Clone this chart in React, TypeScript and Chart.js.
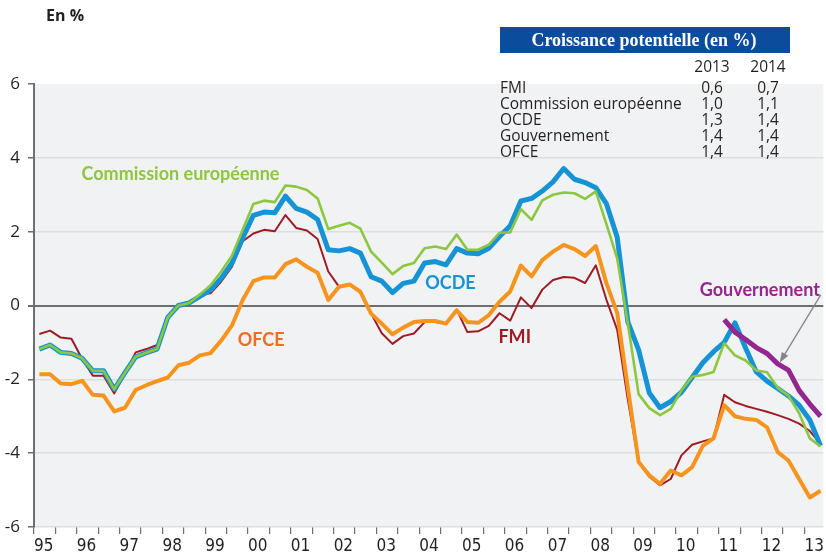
import React, { useEffect, useRef } from 'react';
import { Chart, registerables } from 'chart.js';

Chart.register(...registerables);

// ---- Data (quarterly output gap, % of potential GDP, 1995T1 - 2013T2) ----
const START_YEAR = 1995;
const yearLabels = ['95', '96', '97', '98', '99', '00', '01', '02', '03', '04', '05', '06', '07', '08', '09', '10', '11', '12', '13'];

const fmi = [
  -0.77, -0.68, -0.87, -0.9, -1.45, -1.9, -1.9, -2.38, -1.85, -1.27, -1.18, -1.07,
  -0.32, 0.0, 0.05, 0.3, 0.33, 0.65, 1.05, 1.74, 1.95, 2.05, 2.01, 2.45,
  2.1, 2.03, 1.8, 0.92, 0.51, 0.58, 0.4, -0.22, -0.75, -1.04, -0.83, -0.76,
  -0.45, -0.45, -0.49, -0.11, -0.72, -0.7, -0.55, -0.21, -0.41, 0.22, -0.07, 0.43,
  0.69, 0.77, 0.75, 0.61, 1.09, 0.15, -0.66, -2.56, -4.25, -4.64, -4.87, -4.7,
  -4.06, -3.77, -3.68, -3.6, -2.42, -2.62, -2.72, -2.8, -2.88, -2.97, -3.07, -3.2,
  -3.4, -3.75,
];

const commission = [
  -1.18, -1.07, -1.27, -1.3, -1.43, -1.77, -1.77, -2.27, -1.82, -1.39, -1.28, -1.18,
  -0.32, 0.0, 0.07, 0.3, 0.55, 0.92, 1.35, 2.05, 2.75, 2.84, 2.8, 3.25,
  3.22, 3.13, 2.9, 2.07, 2.16, 2.24, 2.08, 1.46, 1.16, 0.85, 1.07, 1.15,
  1.55, 1.6, 1.53, 1.92, 1.51, 1.51, 1.65, 1.97, 1.98, 2.61, 2.32, 2.85,
  3.0, 3.06, 3.04, 2.89, 3.09, 2.2, 1.27, -0.5, -2.4, -2.78, -2.97, -2.8,
  -2.3, -1.93, -1.88, -1.8, -1.02, -1.35, -1.49, -1.76, -1.81, -2.23, -2.44, -2.92,
  -3.6, -3.82,
];

const ocde = [
  -1.18, -1.07, -1.27, -1.3, -1.43, -1.77, -1.77, -2.27, -1.82, -1.39, -1.28, -1.18,
  -0.32, 0.0, 0.07, 0.25, 0.42, 0.74, 1.15, 1.83, 2.44, 2.53, 2.51, 2.96,
  2.63, 2.53, 2.33, 1.51, 1.48, 1.54, 1.42, 0.78, 0.66, 0.35, 0.6, 0.66,
  1.15, 1.19, 1.1, 1.54, 1.42, 1.4, 1.55, 1.87, 2.16, 2.83, 2.9, 3.1,
  3.35, 3.71, 3.42, 3.33, 3.19, 2.75, 1.85, -0.45, -1.2, -2.37, -2.77, -2.6,
  -2.35, -1.95, -1.55, -1.25, -1.0, -0.47, -1.15, -1.8, -2.05, -2.25, -2.45, -2.7,
  -3.1, -3.8,
];

const ofce = [
  -1.86, -1.86, -2.11, -2.13, -2.04, -2.42, -2.44, -2.87, -2.77, -2.29, -2.16, -2.05,
  -1.95, -1.62, -1.55, -1.35, -1.29, -0.95, -0.54, 0.15, 0.66, 0.76, 0.76, 1.12,
  1.25, 1.05, 0.89, 0.15, 0.51, 0.57, 0.37, -0.22, -0.49, -0.78, -0.6, -0.45,
  -0.42, -0.42, -0.49, -0.13, -0.45, -0.47, -0.26, 0.1, 0.38, 1.08, 0.79, 1.23,
  1.46, 1.64, 1.53, 1.34, 1.61, 0.6, -0.2, -2.24, -4.24, -4.6, -4.83, -4.47,
  -4.6, -4.38, -3.8, -3.6, -2.7, -3.0, -3.07, -3.1, -3.3, -3.97, -4.2, -4.7,
  -5.2, -5.02,
];

// Gouvernement starts in 2011T1 (quarter index 64)
const GOUV_START_INDEX = 64;
const gouvernement = [-0.38, -0.72, -0.92, -1.14, -1.3, -1.58, -1.75, -2.3, -2.67, -3.0];

// Table
const tableTitle = 'Croissance potentielle (en %)';
const tableYears = ['2013', '2014'];
const tableRows = ['FMI', 'Commission européenne', 'OCDE', 'Gouvernement', 'OFCE'];
const table2013 = ['0,6', '1,0', '1,3', '1,4', '1,4'];
const table2014 = ['0,7', '1,1', '1,4', '1,4', '1,4'];

const X_MAX = 2013.44;

const COLORS = {
  fmi: '#9e1b24',
  commission: '#8dc63f',
  ocde: '#1593d4',
  ofce: '#f7941d',
  ofceLabel: '#f36b21',
  gouv: '#93278f',
  bg: '#f1f2f4',
  grid: '#dcdde0',
  axis: '#6d6e71',
  text: '#231f20',
  tableHead: '#0b4d9c',
};

const toPoints = (arr: number[], startIndex = 0) =>
  arr.map((v, i) => ({ x: START_YEAR + (startIndex + i + 0.5) / 4, y: v }));

const LABEL_FONT = "'Lato', 'Open Sans', sans-serif";
const TEXT_FONT = "'Open Sans', 'Noto Sans', sans-serif";

const overlayPlugin = {
  id: 'overlay',
  beforeDraw(chart: any) {
    const { ctx, chartArea: a } = chart;
    ctx.save();
    ctx.fillStyle = COLORS.bg;
    ctx.fillRect(a.left, a.top, a.right - a.left, a.bottom - a.top);
    ctx.restore();
  },
  afterDraw(chart: any) {
    const { ctx } = chart;
    const xs = chart.scales.x;
    const ys = chart.scales.y;
    const px = (v: number) => xs.getPixelForValue(v);
    const py = (v: number) => ys.getPixelForValue(v);
    ctx.save();
    ctx.textBaseline = 'middle';

    // "En %"
    ctx.fillStyle = COLORS.text;
    ctx.font = `bold 16px ${TEXT_FONT}`;
    ctx.textAlign = 'left';
    ctx.fillText('En %', 46, 16);

    // Table header
    ctx.fillStyle = COLORS.tableHead;
    ctx.fillRect(500, 27, 290, 26);
    ctx.fillStyle = '#ffffff';
    ctx.font = "bold 18px 'Liberation Serif', 'DejaVu Serif', serif";
    ctx.textAlign = 'center';
    ctx.fillText(tableTitle, 644, 41);

    ctx.fillStyle = COLORS.text;
    ctx.font = `15.5px ${TEXT_FONT}`;
    ctx.fillText(tableYears[0], 712, 68);
    ctx.fillText(tableYears[1], 768, 68);
    tableRows.forEach((r, i) => {
      const y = 89 + i * 15.8;
      ctx.textAlign = 'left';
      ctx.fillText(r, 500, y);
      ctx.textAlign = 'center';
      ctx.fillText(table2013[i], 712, y);
      ctx.fillText(table2014[i], 768, y);
    });

    // Inline series labels
    ctx.font = `bold 18px ${LABEL_FONT}`;
    ctx.textAlign = 'left';
    ctx.fillStyle = COLORS.commission;
    ctx.fillText('Commission européenne', px(1996.11), py(3.55));
    ctx.fillStyle = COLORS.ocde;
    ctx.fillText('OCDE', px(2004.14), py(0.61));
    ctx.fillStyle = COLORS.ofceLabel;
    ctx.fillText('OFCE', px(1999.76), py(-0.93));
    ctx.fillStyle = COLORS.fmi;
    ctx.fillText('FMI', px(2005.85), py(-0.86));
    ctx.fillStyle = COLORS.gouv;
    ctx.textAlign = 'right';
    ctx.fillText('Gouvernement', px(2013.36), py(0.42));

    // Arrow
    const x1 = px(2013.38), y1 = py(0.29);
    const x2 = px(2012.42), y2 = py(-1.55);
    ctx.strokeStyle = '#858585';
    ctx.fillStyle = '#858585';
    ctx.lineWidth = 1.3;
    const ang = Math.atan2(y2 - y1, x2 - x1);
    const hl = 11;
    ctx.beginPath();
    ctx.moveTo(x1, y1);
    ctx.lineTo(x2 - Math.cos(ang) * hl * 0.8, y2 - Math.sin(ang) * hl * 0.8);
    ctx.stroke();
    ctx.beginPath();
    ctx.moveTo(x2, y2);
    ctx.lineTo(x2 - hl * Math.cos(ang - 0.35), y2 - hl * Math.sin(ang - 0.35));
    ctx.lineTo(x2 - hl * Math.cos(ang + 0.35), y2 - hl * Math.sin(ang + 0.35));
    ctx.closePath();
    ctx.fill();

    ctx.restore();
  },
};

export default function App() {
  const canvasRef = useRef<HTMLCanvasElement | null>(null);

  useEffect(() => {
    if (!canvasRef.current) return;
    const line = (label: string, data: any[], color: string, width: number) => ({
      label,
      data,
      borderColor: color,
      backgroundColor: color,
      borderWidth: width,
      pointRadius: 0,
      tension: 0,
      fill: false,
      borderJoinStyle: 'round' as const,
    });

    const chart = new Chart(canvasRef.current, {
      type: 'line',
      data: {
        datasets: [
          line('Gouvernement', toPoints(gouvernement, GOUV_START_INDEX), COLORS.gouv, 5),
          line('Commission européenne', toPoints(commission), COLORS.commission, 2.6),
          line('OCDE', toPoints(ocde), COLORS.ocde, 5),
          line('OFCE', toPoints(ofce), COLORS.ofce, 4),
          line('FMI', toPoints(fmi), COLORS.fmi, 2),
        ],
      },
      options: {
        animation: false,
        responsive: false,
        maintainAspectRatio: false,
        layout: { padding: { top: 84, right: 0, left: 0, bottom: 0 } },
        plugins: { legend: { display: false }, tooltip: { enabled: false }, title: { display: false } },
        scales: {
          x: {
            type: 'linear',
            min: START_YEAR,
            max: X_MAX,
            afterBuildTicks: (scale: any) => {
              const ticks: any[] = [];
              yearLabels.forEach((_, i) => {
                ticks.push({ value: START_YEAR + i });
                ticks.push({ value: START_YEAR + i + 0.5 });
              });
              scale.ticks = ticks.filter((t) => t.value <= X_MAX);
            },
            afterFit: (scale: any) => { scale.height = 31; },
            border: { display: false },
            grid: { drawOnChartArea: false, drawTicks: true, tickLength: 7, color: COLORS.axis, tickColor: COLORS.axis, lineWidth: 1.2 },
            ticks: {
              autoSkip: false,
              maxRotation: 0,
              minRotation: 0,
              align: 'start',
              padding: 2,
              color: COLORS.text,
              font: { family: "'Liberation Sans Narrow', 'DejaVu Sans Condensed', 'Roboto Condensed', sans-serif", size: 17 },
              callback: (value: any) => {
                const v = Number(value);
                if (Math.abs(v - Math.round(v)) > 1e-6) return '';
                return yearLabels[Math.round(v) - START_YEAR] ?? '';
              },
            },
          },
          y: {
            min: -6,
            max: 6,
            afterFit: (scale: any) => { scale.width = 34; },
            border: { display: true, color: COLORS.axis, width: 2 },
            grid: {
              drawTicks: true,
              tickLength: 6,
              tickColor: COLORS.axis,
              color: (c: any) => {
                const v = c.tick?.value;
                if (v === 0) return COLORS.axis;
                if (v === 6) return 'rgba(0,0,0,0)';
                return COLORS.grid;
              },
              lineWidth: (c: any) => (c.tick?.value === 0 ? 2 : 1.5),
            },
            ticks: {
              stepSize: 2,
              padding: 8,
              color: COLORS.text,
              font: { family: TEXT_FONT, size: 17 },
            },
          },
        },
      },
      plugins: [overlayPlugin],
    } as any);

    const fonts = [
      `bold 18px Lato`, `bold 16px 'Open Sans'`, `15.5px 'Open Sans'`, `17px 'Open Sans'`,
      `bold 18px 'Liberation Serif'`, `17px 'Liberation Sans Narrow'`,
    ];
    Promise.all(fonts.map((f) => (document as any).fonts?.load(f).catch(() => null)))
      .then(() => { try { chart.update(); } catch (e) { /* ignore */ } });

    return () => chart.destroy();
  }, []);

  return (
    <div style={{ position: 'fixed', left: 0, top: 0, width: 826, height: 558, background: '#ffffff' }}>
      <canvas ref={canvasRef} width={826} height={558} style={{ width: 826, height: 558, display: 'block' }} />
    </div>
  );
}
